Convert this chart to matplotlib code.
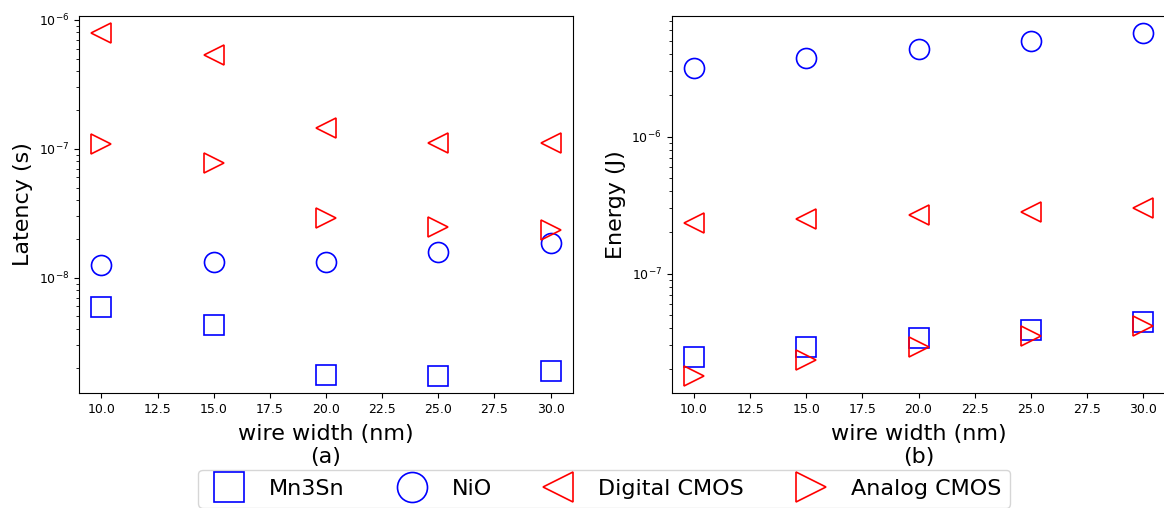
import matplotlib
matplotlib.use("Agg")
import matplotlib.pyplot as plt

# Data
widths = [10, 15, 20, 25, 30]

latency_mn3sn = [5.9e-9, 4.3e-9, 1.76e-9, 1.73e-9, 1.9e-9]
latency_nio = [1.25e-8, 1.32e-8, 1.32e-8, 1.57e-8, 1.86e-8]
latency_digital = [7.9e-7, 5.36e-7, 1.45e-7, 1.10e-7, 1.10e-7]
latency_analog = [1.086e-7, 7.8e-8, 2.92e-8, 2.48e-8, 2.36e-8]

energy_mn3sn = [2.45e-8, 2.9e-8, 3.38e-8, 3.86e-8, 4.42e-8]
energy_nio = [3.15e-6, 3.72e-6, 4.34e-6, 5.0e-6, 5.69e-6]
energy_digital = [2.34e-7, 2.5e-7, 2.66e-7, 2.83e-7, 3.03e-7]
energy_analog = [1.79e-8, 2.34e-8, 2.9e-8, 3.49e-8, 4.13e-8]

labels = ["Mn3Sn", "NiO", "Digital CMOS", "Analog CMOS"]
markers = ["s", "o", "<", ">"]
colors = ["blue", "blue", "red", "red"]

fig = plt.figure(figsize=(11.64, 5.08), dpi=100)
ax1 = fig.add_axes([0.0679, 0.2264, 0.4244, 0.7421])
ax2 = fig.add_axes([0.5769, 0.2264, 0.4244, 0.7421])

panels = [
    (ax1, [latency_mn3sn, latency_nio, latency_digital, latency_analog], "Latency (s)", "(a)"),
    (ax2, [energy_mn3sn, energy_nio, energy_digital, energy_analog], "Energy (J)", "(b)"),
]

for ax, series, ylabel, tag in panels:
    for vals, lab, m, c in zip(series, labels, markers, colors):
        ax.plot(widths, vals, linestyle="none", marker=m, markersize=14.4,
                markerfacecolor="none", markeredgecolor=c, markeredgewidth=1.2,
                label=lab)
    ax.set_yscale("log")
    ax.set_ylabel(ylabel, fontsize=16)
    ax.set_xlabel("wire width (nm)\n" + tag, fontsize=16, labelpad=6)
    ax.tick_params(labelsize=9)

handles, labs = ax1.get_legend_handles_labels()
fig.legend(handles, labs, loc="upper center", ncol=4, fontsize=16,
           markerscale=1.5, bbox_to_anchor=(0.519, 0.0748), borderaxespad=0)

fig.savefig("out.png", dpi=100)
